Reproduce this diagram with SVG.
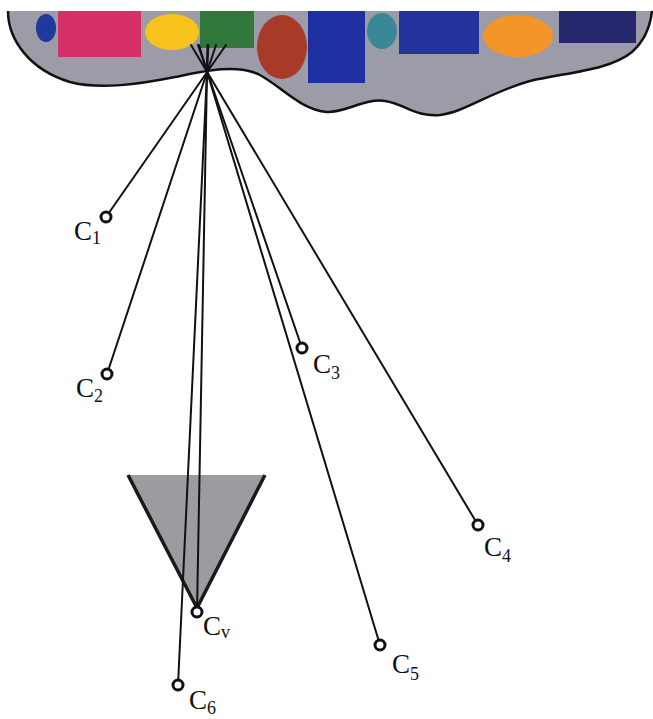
<svg xmlns="http://www.w3.org/2000/svg" width="653" height="719" viewBox="0 0 653 719">
<style>
.ray{stroke:#111;stroke-width:2;fill:none;stroke-linecap:round}
.cam{fill:#fff;stroke:#111;stroke-width:3}
.lbl{font-family:"Liberation Serif","DejaVu Serif",serif;font-size:27px;fill:#111}
.sub{font-size:18px}
</style>
<rect width="653" height="719" fill="#fff"/>
<g id="scene">
<path d="M8,11 C8,40 30,70 70,82 C100,90 140,84 175,77 C205,71 235,64 258,74 C280,85 300,110 327,112 C345,113 365,98 385,101 C405,104 415,117 440,115 C465,112 490,92 530,81 C570,72 610,70 632,52 C648,38 651,20 652,11 Z" fill="#9c9ca8"/>
<ellipse cx="46" cy="28" rx="10" ry="14" fill="#1f3a9e"/>
<rect x="58" y="11" width="83" height="46" fill="#d42f66"/>
<ellipse cx="172" cy="32" rx="27" ry="18" fill="#f8c21c"/>
<rect x="200" y="11" width="54" height="37" fill="#2f773a"/>
<ellipse cx="282" cy="47" rx="25" ry="32" fill="#a83a28"/>
<rect x="308" y="11" width="57" height="72" fill="#1e2fa2"/>
<ellipse cx="382" cy="31" rx="15" ry="18" fill="#3a8896"/>
<rect x="399" y="11" width="80" height="43" fill="#23329c"/>
<ellipse cx="518" cy="36" rx="35" ry="21" fill="#f4952a"/>
<rect x="559" y="11" width="77" height="32" fill="#25286c"/>
<path d="M8,11 C8,40 30,70 70,82 C100,90 140,84 175,77 C205,71 235,64 258,74 C280,85 300,110 327,112 C345,113 365,98 385,101 C405,104 415,117 440,115 C465,112 490,92 530,81 C570,72 610,70 632,52 C648,38 651,20 652,11" fill="none" stroke="#111" stroke-width="2.5"/>
</g>
<g id="frustum">
<polygon points="128,475 265,475 197,608" fill="#9c9ca0"/>
<polyline points="128,475 197,608 265,475" fill="none" stroke="#1a1a1a" stroke-width="3.5" stroke-linejoin="round"/>
</g>
<g id="connectors">
<line class="ray" x1="226" y1="45" x2="106" y2="217"/>
<line class="ray" x1="216" y1="45" x2="107" y2="374"/>
<line class="ray" x1="198" y1="45" x2="302" y2="348"/>
<line class="ray" x1="191" y1="45" x2="478" y2="525"/>
<line class="ray" x1="199" y1="45" x2="380" y2="645"/>
<line class="ray" x1="207.5" y1="45" x2="197" y2="612"/>
<line class="ray" x1="208.3" y1="45" x2="178" y2="685"/>
</g>
<g id="C1"><circle class="cam" cx="106" cy="217" r="5"/><text class="lbl" x="74" y="240">C<tspan class="sub" dy="4">1</tspan></text></g>
<g id="C2"><circle class="cam" cx="107" cy="374" r="5"/><text class="lbl" x="76" y="397">C<tspan class="sub" dy="5">2</tspan></text></g>
<g id="C3"><circle class="cam" cx="302" cy="348" r="5"/><text class="lbl" x="313" y="373">C<tspan class="sub" dy="6">3</tspan></text></g>
<g id="C4"><circle class="cam" cx="478" cy="525" r="5"/><text class="lbl" x="484" y="556">C<tspan class="sub" dy="6">4</tspan></text></g>
<g id="Cv"><circle class="cam" cx="197" cy="612" r="5"/><text class="lbl" x="203" y="635">C<tspan class="sub" dy="3">v</tspan></text></g>
<g id="C5"><circle class="cam" cx="380" cy="645" r="5"/><text class="lbl" x="392" y="673">C<tspan class="sub" dy="7">5</tspan></text></g>
<g id="C6"><circle class="cam" cx="178" cy="685" r="5"/><text class="lbl" x="189" y="709">C<tspan class="sub" dy="5">6</tspan></text></g>
</svg>
